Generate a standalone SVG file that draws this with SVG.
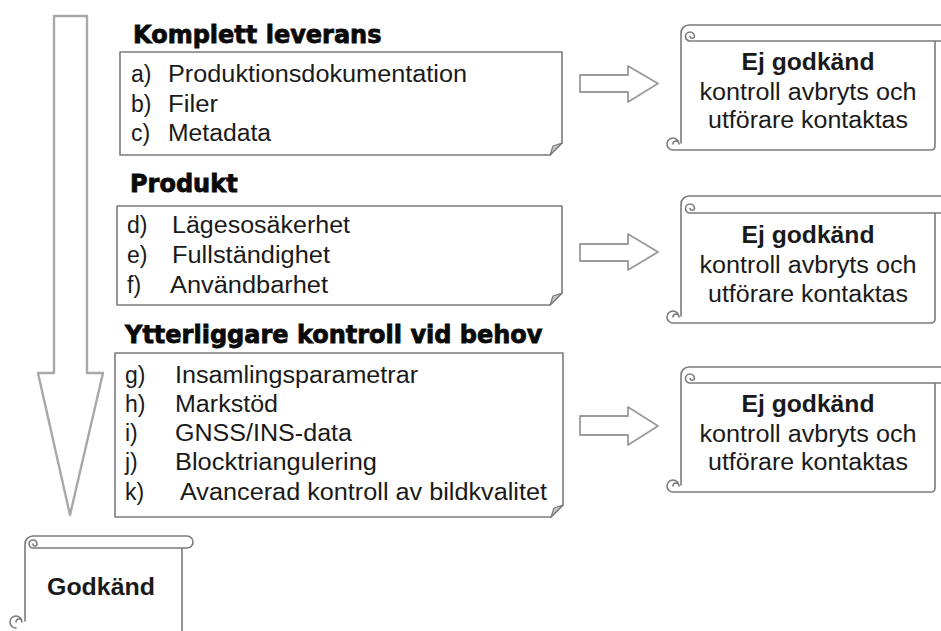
<svg xmlns="http://www.w3.org/2000/svg" width="941" height="631" viewBox="0 0 941 631">
<style>
.ln{fill:none;stroke:#7b7b7b;stroke-width:1.6;stroke-linejoin:round;stroke-linecap:round}
.bx{fill:#fff;stroke:#7b7b7b;stroke-width:1.6;stroke-linejoin:round}
.fold{fill:#c8c8c8;stroke:#7b7b7b;stroke-width:1.2;stroke-linejoin:round}
.arr{fill:#fff;stroke:#9a9a9a;stroke-width:1.8;stroke-linejoin:round}
.big{fill:#fff;stroke:#a8a8a8;stroke-width:2.4;stroke-linejoin:round}
.t{font-family:"Liberation Sans",Arial,sans-serif;font-size:23px;fill:#1a1a1a}
.h{font-family:"DejaVu Sans",sans-serif;font-weight:bold;font-size:24px;fill:#0a0a0a;stroke:#0a0a0a;stroke-width:0.8}
.b{font-family:"Liberation Sans",Arial,sans-serif;font-weight:bold;font-size:23px;fill:#1a1a1a}
.c{text-anchor:middle}
</style>
<rect width="941" height="631" fill="#fff"/>
<g id="connectors">
<path class="big" d="M54,16 H87 V373 H103 L70,515 L38,373 H54 Z"/>
<path class="arr" d="M580,75 H628 V66 L658,83.5 L628,102 V92 H580 Z"/>
<path class="arr" d="M580,244 H628 V234 L658,252 L628,270 V261 H580 Z"/>
<path class="arr" d="M580,416 H628 V407 L658,426 L628,445 V435 H580 Z"/>
</g>
<g id="komplett">
<text class="h" x="133" y="43">Komplett leverans</text>
<path class="bx" d="M120,52 H562 V143 L550,155 H120 Z"/>
<path class="fold" d="M550,155 L553,146 L562,143 Z"/>
<text class="t" x="131" y="82">a)</text>
<text class="t" x="168" y="82" textLength="299" lengthAdjust="spacingAndGlyphs">Produktionsdokumentation</text>
<text class="t" x="131" y="111.5">b)</text>
<text class="t" x="168" y="111.5" textLength="50" lengthAdjust="spacingAndGlyphs">Filer</text>
<text class="t" x="131" y="141">c)</text>
<text class="t" x="168" y="141" textLength="103" lengthAdjust="spacingAndGlyphs">Metadata</text>
</g>
<g id="produkt">
<text class="h" x="130" y="192">Produkt</text>
<path class="bx" d="M117,206 H562 V293 L550,305 H117 Z"/>
<path class="fold" d="M550,305 L553,296 L562,293 Z"/>
<text class="t" x="127" y="233">d)</text>
<text class="t" x="172" y="233" textLength="178" lengthAdjust="spacingAndGlyphs">Lägesosäkerhet</text>
<text class="t" x="127" y="263">e)</text>
<text class="t" x="172" y="263" textLength="158" lengthAdjust="spacingAndGlyphs">Fullständighet</text>
<text class="t" x="127" y="293">f)</text>
<text class="t" x="170" y="293" textLength="158" lengthAdjust="spacingAndGlyphs">Användbarhet</text>
</g>
<g id="ytterliggare">
<text class="h" x="125" y="343">Ytterliggare kontroll vid behov</text>
<path class="bx" d="M115,353 H563 V505 L551,517 H115 Z"/>
<path class="fold" d="M551,517 L554,508 L563,505 Z"/>
<text class="t" x="125" y="383">g)</text>
<text class="t" x="175" y="383" textLength="243" lengthAdjust="spacingAndGlyphs">Insamlingsparametrar</text>
<text class="t" x="125" y="412">h)</text>
<text class="t" x="175" y="412" textLength="103" lengthAdjust="spacingAndGlyphs">Markstöd</text>
<text class="t" x="125" y="441">i)</text>
<text class="t" x="175" y="441" textLength="177" lengthAdjust="spacingAndGlyphs">GNSS/INS-data</text>
<text class="t" x="125" y="470">j)</text>
<text class="t" x="175" y="470" textLength="202" lengthAdjust="spacingAndGlyphs">Blocktriangulering</text>
<text class="t" x="125" y="500">k)</text>
<text class="t" x="180" y="500" textLength="367" lengthAdjust="spacingAndGlyphs">Avancerad kontroll av bildkvalitet</text>
</g>
<g id="ej1">
<path class="ln" d="M689,25 H945 M689,25 A8,8 0 0 0 681,33 V143 M690,41 H945 M690,41 a4.5,4.5 0 1 1 4.5,-4.5 a2.3,2.3 0 0 1 -4.5,0 M673,150 H931 Q935,150 935,146 V41 M673,150 a6,6 0 1 1 6,-6 a3,3 0 0 0 -6,0"/>
<text class="b c" x="808" y="70" textLength="133" lengthAdjust="spacingAndGlyphs">Ej godkänd</text>
<text class="t c" x="808" y="100" textLength="217" lengthAdjust="spacingAndGlyphs">kontroll avbryts och</text>
<text class="t c" x="808" y="128" textLength="200" lengthAdjust="spacingAndGlyphs">utförare kontaktas</text>
</g>
<g id="ej2">
<path class="ln" d="M689,196 H945 M689,196 A8,8 0 0 0 681,204 V316 M690,213 H945 M690,213 a4.5,4.5 0 1 1 4.5,-4.5 a2.3,2.3 0 0 1 -4.5,0 M673,323 H931 Q935,323 935,319 V213 M673,323 a6,6 0 1 1 6,-6 a3,3 0 0 0 -6,0"/>
<text class="b c" x="808" y="243" textLength="133" lengthAdjust="spacingAndGlyphs">Ej godkänd</text>
<text class="t c" x="808" y="273" textLength="217" lengthAdjust="spacingAndGlyphs">kontroll avbryts och</text>
<text class="t c" x="808" y="302" textLength="200" lengthAdjust="spacingAndGlyphs">utförare kontaktas</text>
</g>
<g id="ej3">
<path class="ln" d="M689,367 H945 M689,367 A8,8 0 0 0 681,375 V485 M690,383 H945 M690,383 a4.5,4.5 0 1 1 4.5,-4.5 a2.3,2.3 0 0 1 -4.5,0 M673,492 H931 Q935,492 935,488 V383 M673,492 a6,6 0 1 1 6,-6 a3,3 0 0 0 -6,0"/>
<text class="b c" x="808" y="412" textLength="133" lengthAdjust="spacingAndGlyphs">Ej godkänd</text>
<text class="t c" x="808" y="442" textLength="217" lengthAdjust="spacingAndGlyphs">kontroll avbryts och</text>
<text class="t c" x="808" y="470" textLength="200" lengthAdjust="spacingAndGlyphs">utförare kontaktas</text>
</g>
<g id="godkand">
<path class="ln" d="M33,536 H187 A6,6 0 0 1 187,548 H33 M33,536 A8,8 0 0 0 25,544 V621 M33,548 a4,4 0 1 1 4,-4 a2,2 0 0 1 -4,0 M182,548 V640 M16,628 a6,6 0 1 1 6,-6 a3,3 0 0 0 -6,0"/>
<text class="b c" x="101" y="595" textLength="108" lengthAdjust="spacingAndGlyphs">Godkänd</text>
</g>
</svg>
